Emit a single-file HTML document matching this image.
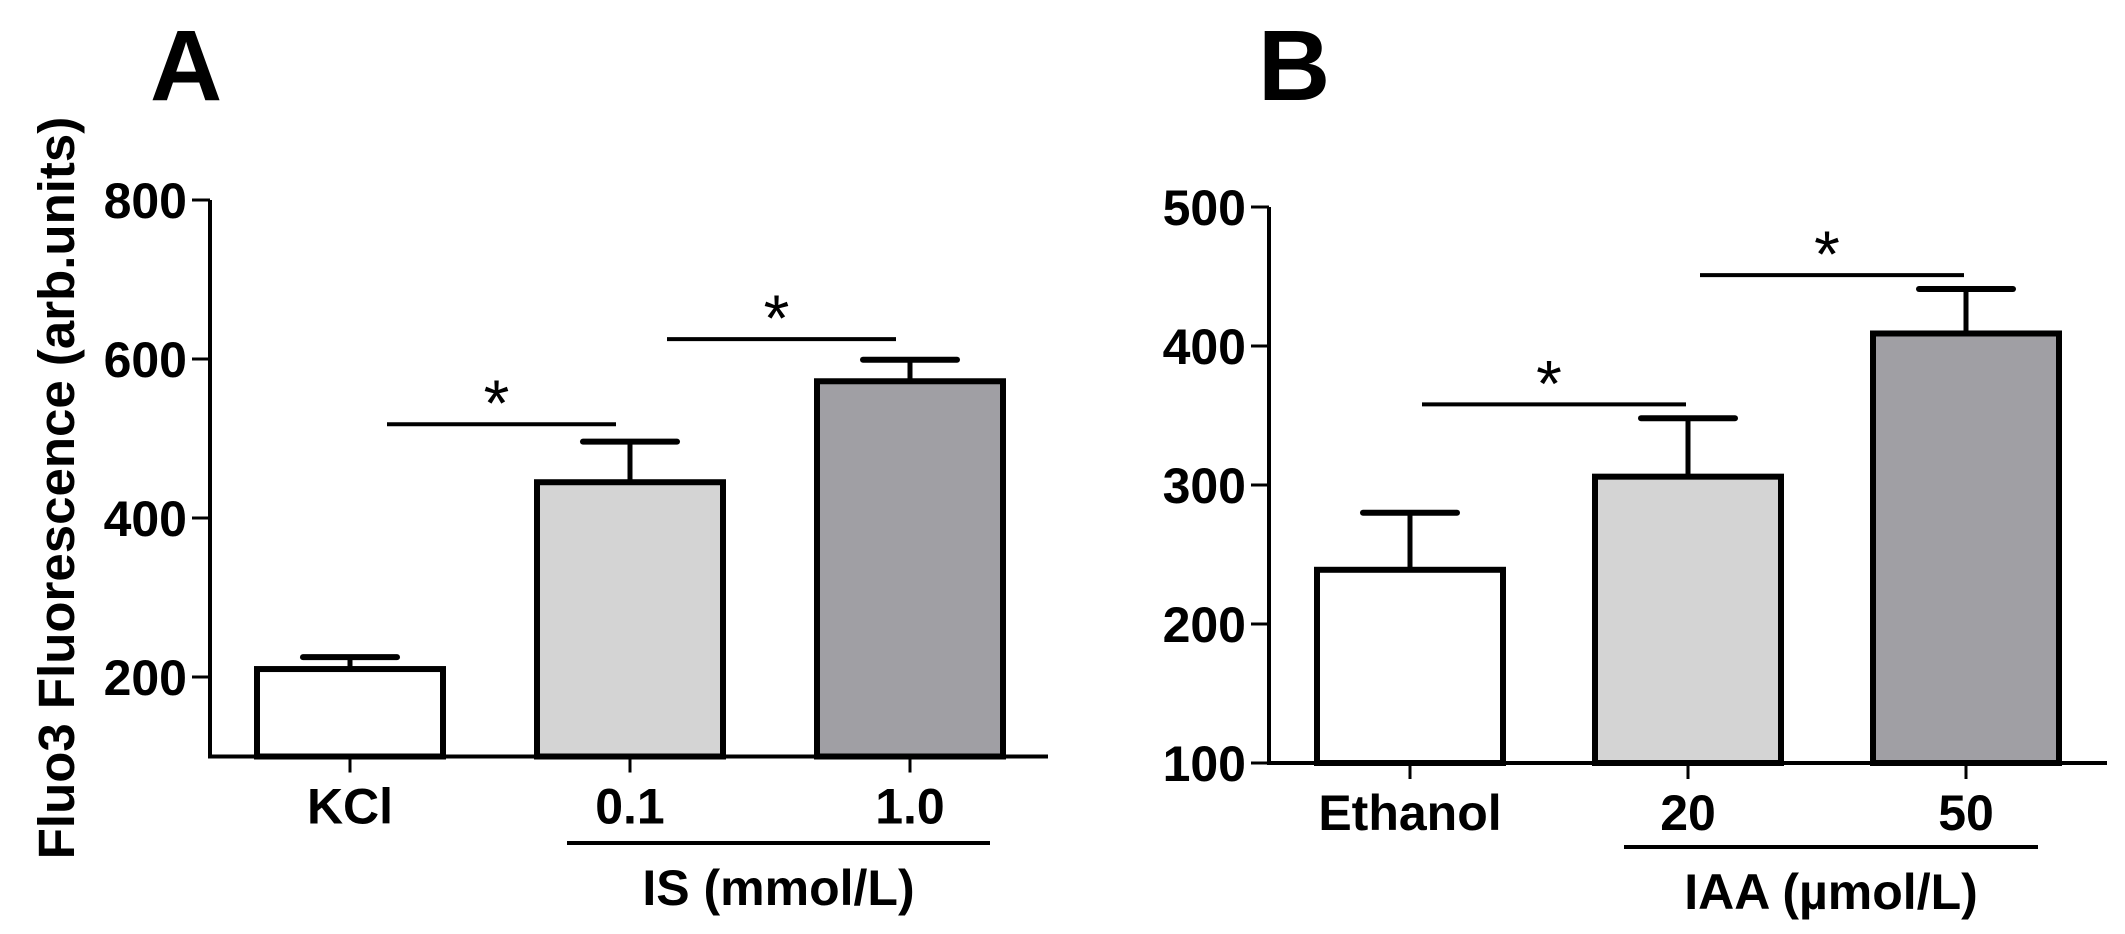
<!DOCTYPE html>
<html><head><meta charset="utf-8"><style>
html,body{margin:0;padding:0;background:#fff;}
svg{display:block;font-family:"Liberation Sans",Arial,sans-serif;}
</style></head><body>
<svg id="fig" width="2125" height="934" viewBox="0 0 2125 934" xmlns="http://www.w3.org/2000/svg">
<text x="150" y="100" font-size="100" font-weight="bold">A</text>
<text x="1258" y="100" font-size="100" font-weight="bold">B</text>
<text transform="translate(74,488) rotate(-90)" text-anchor="middle" font-size="51" font-weight="bold">Fluo3 Fluorescence (arb.units)</text>
<g id="pa"></g>
<g id="pb"></g>
</svg>
<script>
// Panel A data
const catsA = ["KCl", "0.1", "1.0"];
const valsA = [210, 445, 572];
const errA = [225, 496, 599];
const ticksA = [200, 400, 600, 800];
const sigA = [[0, 1, 518], [1, 2, 625]];
// Panel B data
const catsB = ["Ethanol", "20", "50"];
const valsB = [239, 306, 409];
const errB = [280, 348, 441];
const ticksB = [100, 200, 300, 400, 500];
const sigB = [[0, 1, 358], [1, 2, 451]];

const fills = ["#ffffff", "#d4d4d4", "#a09fa4"];
const NS = "http://www.w3.org/2000/svg";
function mk(parent, tag, attrs) {
  const e = document.createElementNS(NS, tag);
  for (const k in attrs) e.setAttribute(k, attrs[k]);
  parent.appendChild(e);
  return e;
}
function drawPanel(g, cfg) {
  const y = v => cfg.y0 - (v - cfg.vmin) * cfg.k;
  const x = i => cfg.c0 + i * cfg.step;
  const yTop = y(cfg.vmax), yBase = y(cfg.vmin);
  // bars
  cfg.vals.forEach((v, i) => {
    const r = mk(g, "rect", {x: x(i) - cfg.bw / 2, y: y(v), width: cfg.bw, height: yBase - y(v), fill: fills[i], stroke: "#000", "stroke-width": 6});
    
    
    const s = mk(g, "line", {x1: x(i), x2: x(i), y1: y(v), y2: y(cfg.errs[i]), stroke: "#000", "stroke-width": 5});
    
    
    const c = mk(g, "line", {x1: x(i) - 47, x2: x(i) + 47, y1: y(cfg.errs[i]), y2: y(cfg.errs[i]), stroke: "#000", "stroke-width": 6, "stroke-linecap": "round"});
    
    
    const t = mk(g, "line", {x1: x(i), x2: x(i), y1: yBase, y2: yBase + 16, stroke: "#000", "stroke-width": 3});
    
    
    const l = mk(g, "text", {x: x(i), y: yBase + 67, "text-anchor": "middle", "font-size": 50, "font-weight": "bold"});
    l.textContent = cfg.cats[i];
    
    
  });
  // axes
  const ya = mk(g, "line", {x1: cfg.ax, x2: cfg.ax, y1: yTop, y2: yBase + 1.5, stroke: "#000", "stroke-width": 4});
  
  
  const xa = mk(g, "line", {x1: cfg.ax - 2, x2: cfg.xend, y1: yBase, y2: yBase, stroke: "#000", "stroke-width": 4});
  
  
  cfg.ticks.forEach(tv => {
    const tk = mk(g, "line", {x1: cfg.ax - 18, x2: cfg.ax, y1: y(tv), y2: y(tv), stroke: "#000", "stroke-width": 3});
    
    
    const tl = mk(g, "text", {x: cfg.ax - 23, y: y(tv) + 18, "text-anchor": "end", "font-size": 50, "font-weight": "bold"});
    tl.textContent = tv;
    
    
  });
  // significance
  cfg.sig.forEach(s => {
    const x1 = x(s[0]) + cfg.sigOff[0], x2 = x(s[1]) + cfg.sigOff[1];
    const sl = mk(g, "line", {x1: x1, x2: x2, y1: y(s[2]), y2: y(s[2]), stroke: "#000", "stroke-width": 4});
    
    
    const st = mk(g, "text", {x: (x1 + x2) / 2 - 5, y: y(s[2]) + 2, "text-anchor": "middle", "font-size": 66});
    st.textContent = "*";
    
    
  });
  // group underline + label
  const ul = mk(g, "line", {x1: cfg.ul[0], x2: cfg.ul[1], y1: cfg.ul[2], y2: cfg.ul[2], stroke: "#000", "stroke-width": 4});
  
  
  const gl = mk(g, "text", {x: (cfg.ul[0] + cfg.ul[1]) / 2, y: cfg.ul[2] + 62, "text-anchor": "middle", "font-size": 50, "font-weight": "bold"});
  gl.textContent = cfg.glabel;
  
  
}
drawPanel(document.getElementById("pa"), {
  cats: catsA, vals: valsA, errs: errA, ticks: ticksA, sig: sigA,
  vmin: 100, vmax: 800, y0: 756.5, k: 0.795, ax: 210, xend: 1048,
  c0: 350, step: 280, bw: 186, sigOff: [37, -14],
  ul: [567, 990, 843], glabel: "IS (mmol/L)"
});
drawPanel(document.getElementById("pb"), {
  cats: catsB, vals: valsB, errs: errB, ticks: ticksB, sig: sigB,
  vmin: 100, vmax: 500, y0: 763, k: 1.39, ax: 1269, xend: 2107,
  c0: 1410, step: 278, bw: 186, sigOff: [12, -2],
  ul: [1624, 2038, 847], glabel: "IAA (µmol/L)"
});
</script>
</body></html>
